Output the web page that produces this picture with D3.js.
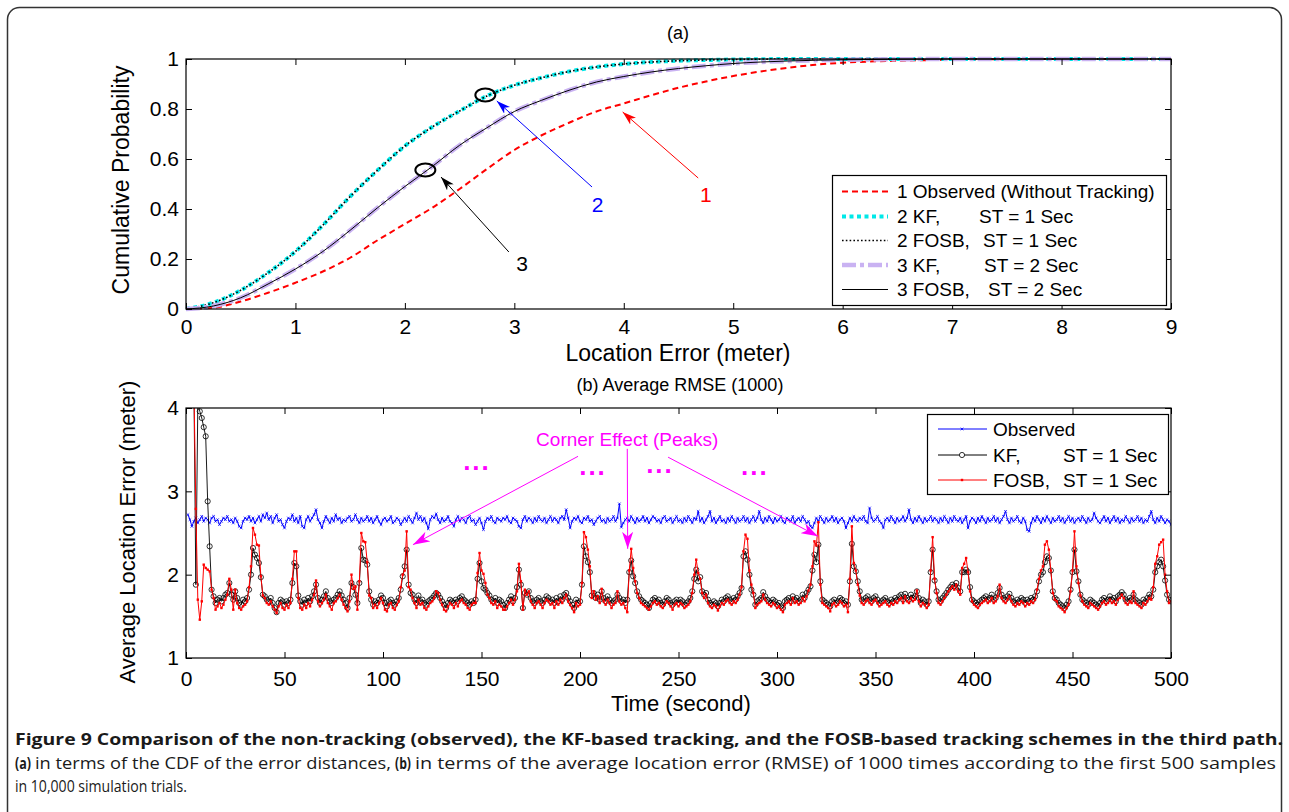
<!DOCTYPE html>
<html><head><meta charset="utf-8">
<script src="https://cdn.jsdelivr.net/npm/d3@7"></script>
<style>
body{margin:0;background:#fff;}
svg{display:block;}
</style></head><body>
<svg id="chart" width="1289" height="812"></svg>
<script>
// ---------------- DATA ----------------
// (a) CDF of location error
const cdfX = [0,0.25,0.5,0.75,1,1.25,1.5,1.75,2,2.25,2.5,2.75,3,3.25,3.5,3.75,4,4.25,4.5,4.75,5,5.25,5.5,5.75,6,6.5,7,7.5,8,9];
const cdfObserved = [0,0.005,0.03,0.065,0.105,0.15,0.205,0.275,0.34,0.405,0.48,0.56,0.636,0.695,0.745,0.79,0.822,0.855,0.885,0.91,0.932,0.95,0.965,0.977,0.985,0.993,0.997,0.999,1,1];
const cdfKF1 = [0,0.025,0.075,0.145,0.23,0.335,0.45,0.555,0.652,0.728,0.792,0.852,0.895,0.925,0.95,0.968,0.98,0.988,0.993,0.996,0.998,0.999,1,1,1,1,1,1,1,1];
const cdfFOSB1 = [0,0.025,0.075,0.145,0.23,0.335,0.45,0.555,0.652,0.728,0.792,0.852,0.895,0.925,0.95,0.968,0.98,0.988,0.993,0.996,0.998,0.999,1,1,1,1,1,1,1,1];
const cdfKF2 = [0,0.012,0.045,0.1,0.16,0.23,0.315,0.405,0.49,0.57,0.655,0.725,0.79,0.835,0.875,0.908,0.93,0.948,0.962,0.973,0.982,0.988,0.992,0.995,0.997,0.999,1,1,1,1];
const cdfFOSB2 = [0,0.012,0.045,0.1,0.16,0.23,0.315,0.405,0.49,0.57,0.655,0.725,0.79,0.835,0.875,0.908,0.93,0.948,0.962,0.973,0.982,0.988,0.992,0.995,0.997,0.999,1,1,1,1];
const cdfLegend = ["1 Observed (Without Tracking)", "2 KF,", "2 FOSB,", "3 KF,", "3 FOSB,"];
const cdfLegendST = ["", "ST = 1 Sec", "ST = 1 Sec", "ST = 2 Sec", "ST = 2 Sec"];
const cdfXTicks = [0,1,2,3,4,5,6,7,8,9];
const cdfYTicks = [0,0.2,0.4,0.6,0.8,1];
const cdfYTickLabels = ["0","0.2","0.4","0.6","0.8","1"];

// (b) average RMSE per sample (values in 1/100 m), samples 1..500
const rmseObserved = [
272,266,258,264,268,262,266,270,264,268,
266,262,268,270,264,266,260,264,268,266,
270,264,266,262,268,264,258,256,264,268,
266,270,264,268,262,266,270,264,272,268,
274,266,270,262,268,272,264,266,260,256,
264,268,266,272,264,268,262,270,258,256,
266,270,264,268,272,278,266,262,256,264,
270,266,262,268,264,272,266,268,262,266,
264,268,270,264,266,272,266,262,268,264,
266,270,264,268,262,266,270,264,260,266,
268,264,266,270,262,264,268,266,260,264,
268,264,270,266,262,268,274,266,270,264,
268,262,255,266,270,268,273,266,262,268,
264,266,270,264,262,258,266,270,264,268,
266,262,268,270,264,266,260,264,268,262,
254,264,268,266,270,264,262,268,266,264,
268,266,270,264,262,268,266,264,258,256,
266,270,264,268,266,262,268,264,270,266,
264,268,262,266,270,264,268,266,262,268,
270,266,278,268,256,264,268,266,270,264,
262,268,266,270,264,266,260,264,268,270,
264,266,262,268,264,266,270,264,268,285,
257,262,266,268,264,270,266,262,268,264,
266,270,264,268,262,266,270,268,264,266,
262,268,270,264,266,268,262,266,270,264,
266,262,268,264,270,266,262,268,266,276,
264,268,262,266,270,276,264,268,262,266,
270,264,266,262,268,264,270,266,262,268,
264,266,270,264,268,262,266,270,264,268,
276,266,262,268,264,270,266,262,268,264,
266,270,264,262,268,266,264,270,262,266,
268,264,270,266,262,264,258,256,262,268,
264,270,266,262,268,264,266,270,264,268,
262,266,268,264,256,262,268,264,270,266,
264,268,266,270,264,262,280,268,264,266,
270,264,262,256,266,268,264,270,266,262,
268,264,266,270,264,268,278,266,262,268,
264,270,266,262,268,264,266,270,264,268,
266,262,268,264,270,266,262,268,264,270,
266,264,268,262,266,270,256,264,268,266,
262,268,264,270,266,262,268,264,266,270,
264,268,262,266,270,276,266,262,268,264,
266,270,264,262,268,264,254,252,262,268,
264,270,266,262,268,264,270,266,262,268,
264,266,270,264,268,262,266,270,264,268,
262,266,268,264,270,266,262,268,264,266,
274,268,264,262,266,270,264,268,262,266,
270,264,268,262,266,264,270,266,262,268,
264,266,270,264,268,262,266,264,270,276,
266,262,268,264,270,266,262,266,264,260];
const rmseKF = [
620,560,480,430,188,405,396,388,377,366,
288,234,182,174,166,170,172,168,172,176,
178,190,176,170,180,172,166,164,170,168,
172,182,200,232,224,220,214,197,176,174,
170,168,172,166,160,155,166,170,168,164,
168,166,170,190,214,210,175,168,164,170,
166,172,168,174,180,188,172,166,170,174,
180,172,168,166,170,172,176,180,175,170,
166,160,172,190,185,176,166,190,232,218,
217,212,180,170,164,168,166,170,175,172,
166,162,168,170,166,164,168,172,182,198,
210,230,188,178,176,170,166,175,168,170,
166,164,168,170,172,175,178,176,172,168,
164,160,166,170,168,166,170,168,172,174,
170,168,166,164,168,166,170,195,214,192,
184,182,178,175,170,168,172,166,170,168,
164,160,166,170,174,168,172,185,206,188,
160,178,176,180,172,168,166,170,172,168,
166,170,174,172,168,170,166,172,168,174,
170,176,178,172,168,164,160,170,166,168,
188,234,222,215,203,175,178,172,176,170,
180,172,168,174,170,166,168,170,176,172,
168,170,166,170,203,217,198,190,180,174,
170,168,166,164,160,166,170,172,168,170,
166,164,168,172,170,166,164,168,170,166,
170,168,164,166,168,172,180,195,206,192,
197,180,176,178,170,166,164,168,166,162,
166,170,168,172,174,170,168,172,170,174,
178,184,222,228,218,200,182,176,164,168,
170,172,179,174,170,168,166,170,168,164,
166,162,160,168,170,172,168,174,170,172,
168,170,176,172,178,182,186,205,224,215,
236,192,170,168,166,164,162,168,170,166,
168,172,170,166,168,164,192,237,210,204,
192,180,170,168,172,174,170,168,172,174,
170,166,168,170,172,168,166,170,168,172,
170,174,176,170,177,172,170,176,172,174,
180,172,166,170,168,164,168,203,230,193,
180,170,168,172,175,178,182,185,188,186,
190,184,180,203,203,206,203,185,170,168,
166,164,168,170,172,174,170,172,176,170,
172,178,184,176,172,170,174,177,172,168,
166,170,168,172,170,166,170,168,172,170,
174,180,192,200,203,215,222,220,205,180,
172,170,166,164,162,160,164,168,182,203,
230,204,192,176,170,168,166,164,170,168,
166,164,162,166,170,172,168,170,174,170,
172,168,174,176,179,176,170,168,172,170,
176,170,168,166,164,170,168,172,176,174,
182,203,210,215,218,210,193,176,170,168];
const rmseFOSB = [
700,600,500,430,279,170,146,168,212,208,
206,204,182,172,158,162,166,160,164,170,
176,195,182,158,182,166,160,158,162,164,
168,185,210,256,248,236,235,198,175,172,
166,164,168,162,158,154,162,166,160,158,
164,160,166,195,228,228,172,160,158,164,
160,166,162,170,176,193,168,162,166,170,
176,166,162,158,166,168,172,176,170,164,
160,156,168,200,183,186,158,192,250,240,
239,215,175,172,160,164,160,166,172,166,
158,156,164,166,160,158,164,168,185,200,
205,252,185,182,172,166,160,170,164,166,
160,158,162,166,168,172,180,178,170,164,
158,156,162,166,164,160,166,162,168,170,
166,164,160,158,164,166,166,202,226,205,
201,190,176,172,166,164,168,160,164,162,
158,158,162,166,170,164,170,180,213,192,
158,182,176,180,168,164,160,166,168,164,
160,166,170,168,164,166,160,168,164,170,
166,172,176,168,164,160,155,166,162,164,
190,251,245,230,210,172,180,170,174,166,
183,168,164,170,166,160,164,166,180,168,
164,166,160,155,205,231,208,192,178,172,
166,164,162,160,158,162,166,168,164,166,
162,160,164,168,166,162,158,164,166,162,
166,164,160,162,164,168,178,200,218,202,
195,178,172,176,166,162,160,164,162,157,
162,166,164,168,170,166,164,168,166,170,
176,185,228,248,243,205,188,178,160,164,
166,168,176,170,166,164,162,166,164,160,
162,158,155,164,166,168,164,172,166,168,
164,166,172,168,174,181,188,210,240,235,
263,188,166,164,162,160,156,164,166,162,
164,168,166,162,164,155,195,258,214,205,
188,175,166,164,168,170,166,164,168,170,
166,162,164,166,168,164,162,166,164,168,
166,170,172,166,174,168,166,172,168,170,
181,168,162,166,164,160,164,205,245,195,
178,166,164,168,172,176,180,183,186,182,
188,180,176,208,213,220,203,180,168,164,
162,160,164,166,168,170,166,168,172,166,
168,174,188,172,168,166,170,174,168,164,
162,166,164,168,166,162,166,164,168,166,
170,182,195,205,210,236,240,230,205,178,
170,168,162,160,158,155,160,164,180,205,
252,210,190,175,168,164,162,160,166,164,
162,160,158,162,166,168,164,166,170,166,
168,164,170,172,176,172,166,164,168,166,
180,166,164,162,160,166,164,168,172,170,
185,213,222,236,239,242,200,180,166,168];
const rmseLegend = ["Observed", "KF,", "FOSB,"];
const rmseLegendST = ["", "ST = 1 Sec", "ST = 1 Sec"];
const rmseXTicks = [0,50,100,150,200,250,300,350,400,450,500];
const rmseYTicks = [1,2,3,4];

// annotations (data coordinates)
const cdfCircles = [[2.735,0.856],[2.187,0.556]];
const cdfArrowLabels = ["2","1","3"];
const cdfArrowFrom = [[3.71,0.488],[4.68,0.524],[2.95,0.228]];
const cdfArrowTo = [[2.84,0.832],[3.99,0.788],[2.33,0.528]];
const cdfArrowText = [[3.76,0.42],[4.75,0.46],[3.07,0.184]];
const peakNote = "Corner Effect (Peaks)";
const peakNotePos = [224,3.63];
const peakArrowFrom = [[199,3.42],[224,3.51],[244.7,3.41]];
const peakArrowTo = [[115.2,2.36],[224.2,2.31],[320.8,2.46]];
const ellipsisPos = [[147.7,3.28],[206.6,3.22],[240.6,3.24],[288.8,3.22]];

// ---------------- DRAWING ----------------
const FONT = '"Liberation Sans", Arial, Helvetica, sans-serif';
const svg = d3.select("#chart").attr("font-family", FONT);
const defs = svg.append("defs");

function arrowMarker(id, color, len, wid){
  defs.append("marker").attr("id", id).attr("markerUnits","userSpaceOnUse")
    .attr("viewBox", `${-len} ${-wid/2} ${len} ${wid}`).attr("refX",0).attr("refY",0)
    .attr("markerWidth", len).attr("markerHeight", wid).attr("orient","auto")
    .append("path").attr("d", `M0,0L${-len},${-wid/2}L${-len*0.72},0L${-len},${wid/2}Z`).attr("fill", color);
}
arrowMarker("ahBlue","#0000ff",14,9);
arrowMarker("ahRed","#ff0000",14,9);
arrowMarker("ahBlack","#000000",14,9);
arrowMarker("ahMag","#ff00ff",17,11);

// outer frame
svg.append("rect").attr("x",7.5).attr("y",7.5).attr("width",1274).attr("height",840)
  .attr("rx",12).attr("fill","none").attr("stroke","#333").attr("stroke-width",1.5);

function drawAxes(xs, ys, xTicks, yTicks, yFmt, xPad, yPad){
  const [xl, xr] = xs.range(), [yb, yt] = ys.range();
  const g = svg.append("g");
  g.append("g").attr("transform",`translate(0,${yb})`)
    .call(d3.axisBottom(xs).tickValues(xTicks).tickSize(-6).tickPadding(xPad).tickFormat(d3.format("d")));
  g.append("g").attr("transform",`translate(0,${yt})`)
    .call(d3.axisTop(xs).tickValues(xTicks).tickSize(-6).tickFormat(""));
  g.append("g").attr("transform",`translate(${xl},0)`)
    .call(d3.axisLeft(ys).tickValues(yTicks).tickSize(-6).tickPadding(yPad).tickFormat(yFmt));
  g.append("g").attr("transform",`translate(${xr},0)`)
    .call(d3.axisRight(ys).tickValues(yTicks).tickSize(-6).tickFormat(""));
  g.selectAll(".domain").remove();
  g.selectAll(".tick line").attr("stroke","#000").attr("stroke-width",1);
  g.selectAll("g").attr("font-family", FONT).attr("font-size", 21);
  g.selectAll("text").attr("fill","#000");
  g.append("rect").attr("x",xl).attr("y",yt).attr("width",xr-xl).attr("height",yb-yt)
    .attr("fill","none").attr("stroke","#000").attr("stroke-width",1.2);
}

// ===== (a) =====
const X0 = d3.scaleLinear().domain([0,9]).range([186,1171]);
const Y0 = d3.scaleLinear().domain([0,1]).range([309,59]);
const cdfLine = d3.line().x((d,i)=>X0(cdfX[i])).y(d=>Y0(d)).curve(d3.curveMonotoneX);

const cdfStyles = [
  {data: cdfObserved, color:"#ff0000", w:2, dash:"6,4"},
  {data: cdfKF1, color:"#00e8e8", w:4, dash:"4,3.5"},
  {data: cdfFOSB1, color:"#000000", w:1.6, dash:"1.6,2.2"},
  {data: cdfKF2, color:"#c9b2f2", w:4.5, dash:"14,4,4,4"},
  {data: cdfFOSB2, color:"#000000", w:1, dash:null}
];
cdfStyles.forEach(s=>{
  svg.append("path").datum(s.data).attr("d", cdfLine).attr("fill","none")
    .attr("stroke", s.color).attr("stroke-width", s.w).attr("stroke-dasharray", s.dash);
});

// circles and arrows
cdfCircles.forEach(c=>{
  svg.append("ellipse").attr("cx",X0(c[0])).attr("cy",Y0(c[1])).attr("rx",10).attr("ry",6.5)
    .attr("fill","none").attr("stroke","#000").attr("stroke-width",2);
});
const arrowCols = ["#0000ff","#ff0000","#000000"], arrowIds = ["ahBlue","ahRed","ahBlack"];
cdfArrowLabels.forEach((lab,i)=>{
  svg.append("line").attr("x1",X0(cdfArrowFrom[i][0])).attr("y1",Y0(cdfArrowFrom[i][1]))
    .attr("x2",X0(cdfArrowTo[i][0])).attr("y2",Y0(cdfArrowTo[i][1]))
    .attr("stroke",arrowCols[i]).attr("stroke-width",1).attr("marker-end",`url(#${arrowIds[i]})`);
  svg.append("text").attr("x",X0(cdfArrowText[i][0])).attr("y",Y0(cdfArrowText[i][1]))
    .attr("dy","0.36em").attr("text-anchor","middle").attr("font-size",21)
    .attr("fill",arrowCols[i]).text(lab);
});

drawAxes(X0, Y0, cdfXTicks, cdfYTicks, (d,i)=>cdfYTickLabels[i], 10, 7);

// legend (a)
{
  const lx = 832.5, ly = 175.5, lw = 334, lh = 130;
  svg.append("rect").attr("x",lx).attr("y",ly).attr("width",lw).attr("height",lh)
    .attr("fill","#fff").attr("stroke","#000").attr("stroke-width",1.2);
  const rows = [191.5,216.5,240.5,265,289.5];
  const stX = [0,979,983,984,988];
  cdfStyles.forEach((s,i)=>{
    svg.append("line").attr("x1",842).attr("x2",888).attr("y1",rows[i]).attr("y2",rows[i])
      .attr("stroke",s.color).attr("stroke-width",s.w).attr("stroke-dasharray",s.dash);
    svg.append("text").attr("x",897).attr("y",rows[i]).attr("dy","0.36em").attr("font-size",19)
      .text(cdfLegend[i]);
    if(cdfLegendST[i]) svg.append("text").attr("x",stX[i]).attr("y",rows[i]).attr("dy","0.36em")
      .attr("font-size",19).text(cdfLegendST[i]);
  });
}

svg.append("text").attr("x",678).attr("y",39).attr("text-anchor","middle").attr("font-size",18).text("(a)");
svg.append("text").attr("x",678).attr("y",361).attr("text-anchor","middle").attr("font-size",23).text("Location Error (meter)");
svg.append("text").attr("transform","translate(129,180) rotate(-90)").attr("text-anchor","middle")
  .attr("font-size",23).text("Cumulative Probability");

// ===== (b) =====
const X1 = d3.scaleLinear().domain([0,500]).range([186,1171]);
const Y1 = d3.scaleLinear().domain([1,4]).range([658,408]);
const idx = d => d3.range(1, d.length+1);
const time = idx(rmseKF);

defs.append("clipPath").attr("id","clipB").append("rect")
  .attr("x",186).attr("y",408).attr("width",985).attr("height",250);
const plotB = svg.append("g").attr("clip-path","url(#clipB)");
const rLine = d3.line().x((d,i)=>X1(time[i])).y(d=>Y1(d/100));

// observed
plotB.append("path").datum(rmseObserved).attr("d",rLine).attr("fill","none").attr("stroke","#0000ff").attr("stroke-width",1);
{
  let p = "";
  rmseObserved.forEach((v,i)=>{ const x=X1(time[i]), y=Y1(v/100), s=1.3;
    p += `M${x-s},${y-s}L${x+s},${y+s}M${x-s},${y+s}L${x+s},${y-s}`; });
  plotB.append("path").attr("d",p).attr("stroke","#0000ff").attr("stroke-width",0.8).attr("fill","none");
}
// KF
plotB.append("path").datum(rmseKF).attr("d",rLine).attr("fill","none").attr("stroke","#000").attr("stroke-width",0.9);
plotB.selectAll("circle.kf").data(rmseKF).join("circle").attr("class","kf")
  .attr("cx",(d,i)=>X1(time[i])).attr("cy",d=>Y1(d/100)).attr("r",2.6)
  .attr("fill","none").attr("stroke","#000").attr("stroke-width",0.8);
// FOSB
plotB.append("path").datum(rmseFOSB).attr("d",rLine).attr("fill","none").attr("stroke","#ff0000").attr("stroke-width",1);
plotB.selectAll("rect.fo").data(rmseFOSB).join("rect").attr("class","fo")
  .attr("x",(d,i)=>X1(time[i])-1.2).attr("y",d=>Y1(d/100)-1.2).attr("width",2.4).attr("height",2.4)
  .attr("fill","#ff0000");

// annotations
const mag = "#ff00ff";
svg.append("text").attr("x",X1(peakNotePos[0])).attr("y",Y1(peakNotePos[1])).attr("dy","0.36em")
  .attr("text-anchor","middle").attr("font-size",19).attr("fill",mag).text(peakNote);
peakArrowFrom.forEach((f,i)=>{
  svg.append("line").attr("x1",X1(f[0])).attr("y1",Y1(f[1])).attr("x2",X1(peakArrowTo[i][0])).attr("y2",Y1(peakArrowTo[i][1]))
    .attr("stroke",mag).attr("stroke-width",1).attr("marker-end","url(#ahMag)");
});
ellipsisPos.forEach(p=>{
  svg.append("text").attr("x",X1(p[0])).attr("y",Y1(p[1])).attr("dy","0.07em").attr("text-anchor","middle")
    .attr("font-size",26).attr("font-weight","bold").attr("letter-spacing",2).attr("fill",mag).text("...");
});

drawAxes(X1, Y1, rmseXTicks, rmseYTicks, d3.format("d"), 13, 7);

// legend (b)
{
  const lx = 927.5, ly = 414.5, lw = 241, lh = 80;
  svg.append("rect").attr("x",lx).attr("y",ly).attr("width",lw).attr("height",lh)
    .attr("fill","#fff").attr("stroke","#000").attr("stroke-width",1.2);
  const rows = [429,455,480];
  const cols = ["#0000ff","#000","#ff0000"];
  rmseLegend.forEach((t,i)=>{
    svg.append("line").attr("x1",938).attr("x2",987).attr("y1",rows[i]).attr("y2",rows[i])
      .attr("stroke",cols[i]).attr("stroke-width",1);
    if(i===0){ const s=1.3; svg.append("path").attr("d",`M${962-s},${rows[i]-s}L${962+s},${rows[i]+s}M${962-s},${rows[i]+s}L${962+s},${rows[i]-s}`).attr("stroke",cols[i]).attr("stroke-width",0.8); }
    if(i===1) svg.append("circle").attr("cx",962).attr("cy",rows[i]).attr("r",2.6).attr("fill","#fff").attr("stroke","#000").attr("stroke-width",0.8);
    if(i===2) svg.append("rect").attr("x",960.8).attr("y",rows[i]-1.2).attr("width",2.4).attr("height",2.4).attr("fill","#ff0000");
    svg.append("text").attr("x",993).attr("y",rows[i]).attr("dy","0.36em").attr("font-size",19).text(t);
    if(rmseLegendST[i]) svg.append("text").attr("x",1063).attr("y",rows[i]).attr("dy","0.36em").attr("font-size",19).text(rmseLegendST[i]);
  });
}

svg.append("text").attr("x",680).attr("y",391).attr("text-anchor","middle").attr("font-size",18).text("(b) Average RMSE (1000)");
svg.append("text").attr("x",681).attr("y",711).attr("text-anchor","middle").attr("font-size",22).text("Time (second)");
svg.append("text").attr("transform","translate(135,532) rotate(-90)").attr("text-anchor","middle")
  .attr("font-size",22).text("Average Location Error (meter)");

// ===== caption =====
const CAP = '"Liberation Sans Narrow", "Open Sans", "Liberation Sans", sans-serif';
function cap(txt, x, y, len, bold){
  svg.append("text").attr("x",x).attr("y",y).attr("font-family",CAP).attr("font-size",16)
    .attr("font-weight", bold?"bold":"normal").attr("fill","#1a1a1a")
    .attr("textLength",len).attr("lengthAdjust","spacingAndGlyphs").text(txt);
}
cap("Figure 9 Comparison of the non-tracking (observed), the KF-based tracking, and the FOSB-based tracking schemes in the third path.", 15, 745, 1268, true);
cap("(a)", 15, 769, 16, true);
cap("in terms of the CDF of the error distances,", 35, 769, 356, false);
cap("(b)", 395, 769, 16, true);
cap("in terms of the average location error (RMSE) of 1000 times according to the first 500 samples", 415, 769, 861, false);
cap("in 10,000 simulation trials.", 15, 792, 172, false);
</script>
</body></html>
